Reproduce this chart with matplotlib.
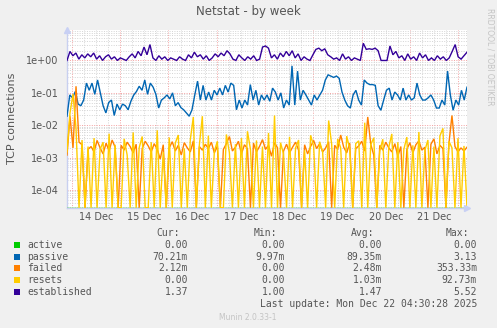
import numpy as np
import matplotlib
matplotlib.use("Agg")
import matplotlib.pyplot as plt
from matplotlib.ticker import NullLocator

# ---- data -----------------------------------------------------------------
# time window in days relative to 14 Dec 00:00
t_start, t_end = -0.1, 8.18

day_labels = ["14 Dec", "15 Dec", "16 Dec", "17 Dec", "18 Dec", "19 Dec", "20 Dec", "21 Dec"]
ytick_vals = [1e-4, 1e-3, 1e-2, 1e-1, 1e0]
ytick_labels = ["1e-04", "1e-03", "1e-02", "1e-01", "1e+00"]

active = [0, 0, 0, 0, 0, 0, 0, 0, 0, 0]

passive_m = [
    19, 86, 70, 110, 45, 40, 60, 200, 120, 200, 90, 250, 100, 40, 24, 50, 60, 20, 45, 30,
    45, 40, 30, 55, 85, 110, 160, 120, 250, 90, 200, 150, 90, 34, 60, 70, 86, 65, 100, 40,
    50, 35, 30, 24, 19, 30, 86, 230, 60, 170, 60, 106, 60, 120, 86, 140, 86, 170, 106, 200,
    170, 30, 60, 34, 60, 42, 180, 60, 120, 42, 86, 60, 86, 55, 140, 106, 60, 100, 34, 60,
    42, 680, 42, 470, 60, 120, 86, 60, 42, 86, 60, 86, 120, 250, 360, 330, 300, 330, 280, 106,
    60, 40, 34, 86, 120, 60, 42, 250, 200, 180, 180, 170, 40, 29, 60, 120, 140, 60, 106, 86,
    60, 140, 60, 86, 60, 70, 200, 86, 60, 60, 70, 86, 60, 34, 34, 60, 42, 470, 86, 29,
    60, 42, 120, 60, 150,
]

failed_m = [
    1.2, 19, 2.0, 160, 3.0, 2.5, 0, 1.8, 2.2, 1.5,
    3.4, 2.0, 1.3, 2.8, 1.6, 3.5, 2.1, 0, 2.4, 1.7,
    3.0, 2.2, 1.4, 2.6, 0, 1.9, 3.2, 2.3, 1.5, 2.7,
    1.8, 0.9, 2.5, 0, 2.0, 3.1, 1.6, 2.4, 1.2, 2.9,
    2.0, 1.5, 3.3, 0, 2.2, 1.7, 2.6, 1.9, 3.0, 1.4,
    2.3, 0, 1.8, 2.7, 4.5, 1.6, 2.1, 3.2, 1.3, 2.5,
    1.9, 0, 2.8, 1.5, 2.2, 3.6, 1.8, 2.4, 1.1, 2.9,
    2.0, 0, 1.6, 2.6, 1.4, 2.1, 3.0, 1.7, 0, 2.5,
    1.3, 2.2, 3.4, 1.9, 2.7, 1.5, 2.0, 3.1, 0, 2.4,
    1.8, 5.0, 2.1, 1.4, 2.8, 0, 1.9, 2.3, 3.2, 1.6,
    18, 2.6, 1.2, 0, 2.4, 1.7, 3.0, 2.0, 1.5, 2.7,
    1.1, 2.2, 0, 1.8, 2.9, 1.4, 2.5, 3.3, 1.7, 2.1,
    0, 2.6, 3.8, 1.3, 2.4, 1.9, 0, 2.8, 20, 2.2,
    1.5, 2.0, 1.6, 2.1,
]

resets_m = [
    1.5, 24, 92, 8.0, 0, 3.5, 0, 2.2, 0, 4.0,
    0, 1.8, 3.0, 0, 5.5, 0, 2.5, 0, 0, 3.8,
    1.2, 0, 6.0, 0, 2.0, 4.5, 0, 0, 3.0, 0,
    7.0, 0, 1.5, 0, 4.2, 0, 2.8, 5.0, 0, 1.9,
    0, 3.6, 18, 0, 2.4, 19, 0, 4.8, 0, 1.6,
    3.2, 0, 0, 5.2, 1.4, 0, 2.6, 0, 4.0, 0,
    6.5, 1.8, 0, 3.4, 0, 2.2, 0, 5.8, 0, 20,
    0, 2.9, 1.3, 0, 4.4, 0, 2.0, 3.5, 0, 1.7,
    0, 4.9, 2.3, 0, 3.1, 1.5, 0, 14, 2.6, 0,
    3.8, 2.0, 0, 4.6, 1.9, 0, 2.7, 3.3, 0, 12,
    0, 2.5, 4.1, 0, 1.6, 3.7, 0, 2.1, 5.4, 0,
    3.0, 0, 1.8, 4.3, 0, 2.4, 0, 6.2, 0, 1.7,
    3.5, 0, 2.2, 0, 4.7, 8.0, 0, 3.2, 2.0, 0,
    4.0, 0, 2.3, 0,
]

established = [
    1.0, 1.9, 1.4, 1.7, 1.1, 1.5, 1.2, 1.6, 1.3, 1.7, 1.1, 1.4, 1.0, 1.3, 1.5, 1.1, 1.3, 1.0,
    1.2, 1.1, 1.0, 1.3, 1.6, 1.2, 1.9, 1.4, 2.6, 1.5, 3.1, 1.2, 1.0, 1.4, 1.1, 1.3,
    1.0, 1.2, 1.1, 1.0, 1.3, 1.1, 1.0, 1.5, 1.2, 1.8, 1.3, 1.5, 1.1, 1.4, 1.0, 1.2, 1.6,
    1.3, 1.7, 1.4, 2.0, 1.6, 1.1, 1.0, 1.5, 1.2, 1.0, 1.3, 1.1, 1.4, 1.0, 1.1, 2.6, 2.8, 2.4,
    1.2, 1.5, 1.1, 1.7, 1.3, 1.9, 1.4, 2.0, 1.2, 1.6, 1.0, 1.3, 1.1, 1.0, 1.5, 2.2, 2.4,
    2.0, 2.3, 1.5, 1.3, 1.1, 1.2, 1.0, 1.6, 1.1, 1.3, 1.0, 1.2, 1.1, 1.0, 3.4, 2.2,
    2.3, 2.2, 2.4, 2.0, 1.0, 1.0, 1.0, 2.8, 1.5, 1.9, 1.2, 1.4, 1.0, 1.6, 1.1, 1.3, 1.0,
    1.7, 1.2, 1.5, 1.0, 1.2, 1.0, 1.4, 1.1, 1.3, 1.0, 1.2, 1.9, 3.1, 1.3, 1.1, 1.4, 1.8,
]

names = ["active", "passive", "failed", "resets", "established"]
colors = ["#00cc00", "#0066b3", "#ff8000", "#ffcc00", "#330099"]
cur = ["0.00", "70.21m", "2.12m", "0.00", "1.37"]
vmin = ["0.00", "9.97m", "0.00", "0.00", "1.00"]
vavg = ["0.00", "89.35m", "2.48m", "1.03m", "1.47"]
vmax = ["0.00", "3.13", "353.33m", "92.73m", "5.52"]

# ---- figure ---------------------------------------------------------------
W, H = 497, 328
fig = plt.figure(figsize=(W / 100, H / 100), dpi=100, facecolor="#f0f0f0")
ax = fig.add_axes([67 / W, 1 - 208 / H, 400 / W, 178 / H])
ax.set_facecolor("white")

y_lo, y_hi = 10 ** -4.556, 10 ** 0.941
ax.set_yscale("log")
ax.set_xlim(t_start, t_end)
ax.set_ylim(y_lo, y_hi)

# grid: 6-hour minor lines, day boundaries in red
for d in np.arange(0, 8.01, 0.25):
    major = abs(d - round(d)) < 1e-9
    ax.axvline(d, color="#f4a0a0" if major else "#d4d4d4", lw=0.7,
               ls=(0, (1, 1.5)), zorder=1)
for e in range(-5, 2):
    for m in range(1, 10):
        yv = m * 10.0 ** e
        if y_lo < yv < y_hi:
            ax.axhline(yv, color="#f4a0a0" if m == 1 else "#d4d4d4", lw=0.7,
                       ls=(0, (1, 1.5)), zorder=1)

series = [
    (np.asarray(active, float), colors[0]),
    (np.asarray(passive_m, float) / 1000.0, colors[1]),
    (np.asarray(failed_m, float) / 1000.0, colors[2]),
    (np.asarray(resets_m, float) / 1000.0, colors[3]),
    (np.asarray(established, float), colors[4]),
]
for vals, c in series:
    t = np.linspace(t_start, t_end, len(vals))
    shown = np.where(vals > 0, vals, y_lo * 1.02)
    ax.plot(t, shown, color=c, lw=1.0, zorder=3, solid_joinstyle="miter")

ax.set_xticks([k + 0.5 for k in range(len(day_labels))])
ax.set_xticklabels(day_labels)
ax.set_yticks(ytick_vals)
ax.set_yticklabels(ytick_labels)
ax.yaxis.set_minor_locator(NullLocator())
ax.xaxis.set_minor_locator(NullLocator())
ax.tick_params(axis="both", length=0, labelsize=7, labelcolor="#555555")
ax.tick_params(axis="x", pad=3)
ax.tick_params(axis="y", pad=6)

for s in ("top", "right"):
    ax.spines[s].set_visible(False)
for s in ("left", "bottom"):
    ax.spines[s].set_color("#c8d0f0")
    ax.spines[s].set_linewidth(1.0)
    ax.spines[s].set_zorder(2)

# axis arrows
ax.plot([0], [1.0], marker="^", ms=5, color="#c8d0f4", transform=ax.transAxes,
        clip_on=False, zorder=5)
ax.plot([1.0], [0], marker=">", ms=5, color="#c8d0f4", transform=ax.transAxes,
        clip_on=False, zorder=5)

# text
fig.text(248.5 / W, 1 - 12 / H, "Netstat - by week", ha="center", va="center",
         fontsize=8.5, color="#555555")
fig.text(12 / W, 1 - 118 / H, "TCP connections", rotation=90, ha="center",
         va="center", fontsize=8, color="#555555")
fig.text(490 / W, 1 - 57 / H, "RRDTOOL / TOBI OETIKER", rotation=270, ha="center",
         va="center", fontsize=5.5, color="#c4c4c4")

mono = "DejaVu Sans Mono"
tc = "#555555"
fs = 7
col_right = [188, 285, 382, 477]
headers = ["Cur:", "Min:", "Avg:", "Max:"]
for x, h in zip(col_right, headers):
    fig.text((x - 8) / W, 1 - 233 / H, h, ha="right", va="center",
             family=mono, fontsize=fs, color=tc)

row_y = [245, 257, 268, 280, 292]
for i, name in enumerate(names):
    yy = 1 - row_y[i] / H
    fig.patches.append(plt.Rectangle((14 / W, yy - 3 / H), 6 / W, 6 / H,
                                     transform=fig.transFigure,
                                     facecolor=colors[i], edgecolor="none"))
    fig.text(27 / W, yy, name, ha="left", va="center", family=mono,
             fontsize=fs, color=tc)
    for x, v in zip(col_right, [cur[i], vmin[i], vavg[i], vmax[i]]):
        fig.text(x / W, yy, v, ha="right", va="center", family=mono,
                 fontsize=fs, color=tc)

fig.text(477 / W, 1 - 304 / H, "Last update: Mon Dec 22 04:30:28 2025",
         ha="right", va="center", family=mono, fontsize=fs, color=tc)
fig.text(248 / W, 1 - 317 / H, "Munin 2.0.33-1", ha="center", va="center",
         fontsize=5.5, color="#c4c4c4")

fig.savefig("out.png", dpi=100, facecolor=fig.get_facecolor())
